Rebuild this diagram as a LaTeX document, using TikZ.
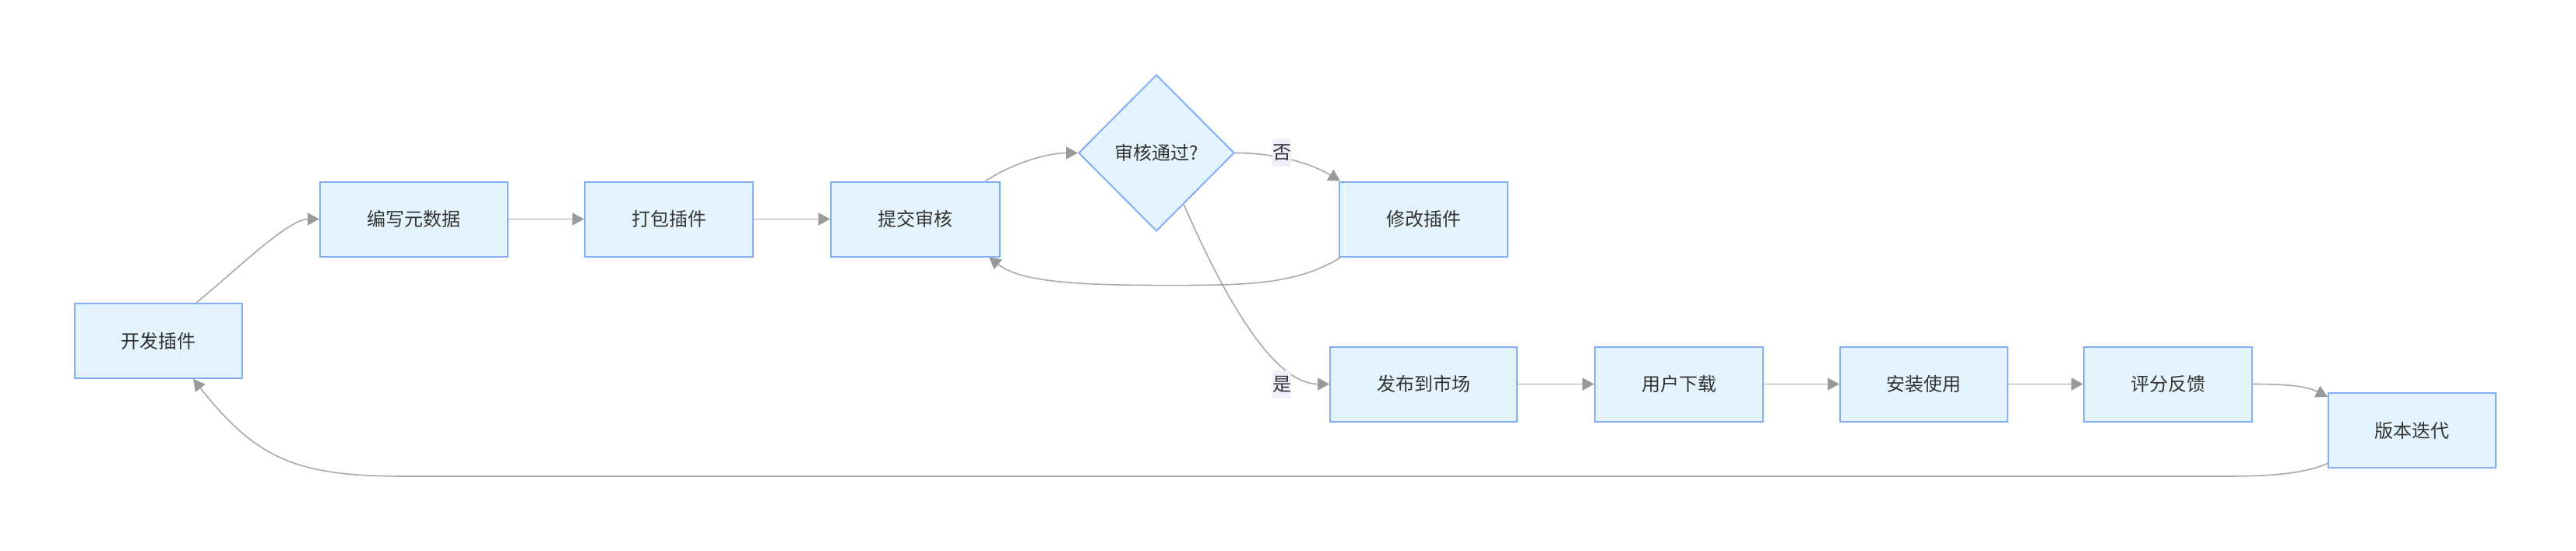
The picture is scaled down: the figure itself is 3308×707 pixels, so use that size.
\documentclass[tikz,border=0pt]{standalone}
\usepackage{fontspec}
\newfontfamily\cjk{Noto Sans CJK SC}
\usetikzlibrary{arrows.meta,shapes.geometric}
\definecolor{nodefill}{HTML}{E4F4FE}
\definecolor{nodeline}{HTML}{84AFF7}
\definecolor{edgecol}{HTML}{A9A9A9}
\definecolor{tipcol}{HTML}{999999}
\definecolor{lblfill}{HTML}{F3EEFC}
\definecolor{txt}{HTML}{333333}
\begin{document}
\begin{tikzpicture}[x=0.5pt,y=-0.5pt,
  txtfont/.style={font=\cjk\fontsize{12}{14}\selectfont, text=txt},
  box/.style={txtfont, draw=nodeline, fill=nodefill, line width=1pt, rectangle, inner sep=0pt, minimum height=48pt},
  dec/.style={txtfont, draw=nodeline, fill=nodefill, line width=1pt, diamond, inner sep=0pt, minimum width=100pt, minimum height=100.5pt},
  flow/.style={draw=edgecol, line width=0.8pt, -{Triangle[length=7.5pt,width=8pt,color=tipcol]}},
  lbl/.style={txtfont, fill=lblfill, inner sep=0pt, minimum width=12pt, minimum height=18pt}]
\useasboundingbox (0,0) rectangle (3308,707);

\node[box, minimum width=107.5pt] (A) at (203.5,438) {开发插件};
\node[box, minimum width=120.5pt] (B) at (531.5,281.5) {编写元数据};
\node[box, minimum width=108pt] (C) at (859,281.5) {打包插件};
\node[box, minimum width=108.5pt] (D) at (1175.5,281.5) {提交审核};
\node[dec] (E) at (1485,196.5) {审核通过?};
\node[box, minimum width=108pt] (F) at (1828,281.5) {修改插件};
\node[box, minimum width=120pt] (G) at (1828,493.5) {发布到市场};
\node[box, minimum width=108pt] (H) at (2156,493.5) {用户下载};
\node[box, minimum width=107.5pt] (I) at (2470.5,493.5) {安装使用};
\node[box, minimum width=108pt] (J) at (2784,493.5) {评分反馈};
\node[box, minimum width=107.5pt] (K) at (3097.5,553) {版本迭代};

\draw[flow] ([xshift=24.25pt]A.north) .. controls (300,350) and (370,281.5) .. (B.west);
\draw[flow] (B.east) -- (C.west);
\draw[flow] (C.east) -- (D.west);
\draw[flow] ([xshift=45pt]D.north) .. controls (1300,210) and (1345,196.5) .. (E.west);
\draw[flow] (E.east) .. controls (1635,196.5) and (1680,208) .. ([xshift=1pt]F.north west);
\draw[flow] ([xshift=1.5pt]F.south west) .. controls (1665,366) and (1600,366.6) .. (1500,366.6)
  .. controls (1380,366.6) and (1310,362) .. ([xshift=47.25pt]D.south);
\draw[flow] (E.-62) .. controls (1580,400) and (1640,493.5) .. (G.west);
\draw[flow] (G.east) -- (H.west);
\draw[flow] (H.east) -- (I.west);
\draw[flow] (I.east) -- (J.west);
\draw[flow] (J.east) .. controls (2935,493.5) and (2962,496) .. ([yshift=-3pt]K.north west);
\draw[flow] ([yshift=3.3pt]K.south west) .. controls (2960,608) and (2920,612) .. (2860,612)
  -- (520,612) .. controls (380,612) and (330,590) .. ([xshift=22.25pt]A.south);

\node[lbl] (no) at (1646,196) {否};
\node[lbl] (yes) at (1646,494) {是};
\end{tikzpicture}
\end{document}
